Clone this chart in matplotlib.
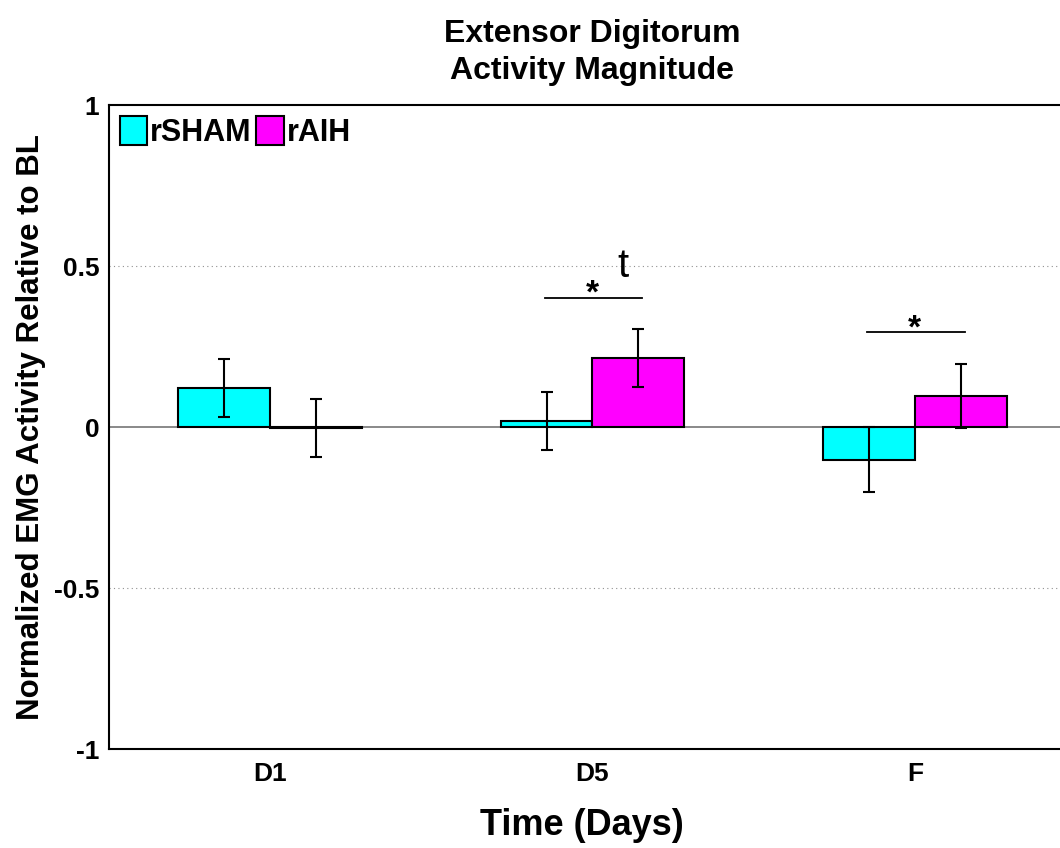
import matplotlib
matplotlib.use('Agg')
import matplotlib.pyplot as plt
import numpy as np

plt.rcParams['font.family'] = ['Liberation Sans', 'DejaVu Sans']

#data
days = ['D1', 'D5', 'F']
sham_mean = [0.122, 0.020, -0.101]
sham_err = [0.090, 0.090, 0.100]
aih_mean = [-0.003, 0.214, 0.097]
aih_err = [0.090, 0.090, 0.100]

#significance marks: (group index, bar height, star height)
sig_marks = [(1, 0.40, 0.413), (2, 0.295, 0.305)]

x = np.arange(1, len(days) + 1)
w = 0.285

fig = plt.figure(figsize=(10.6, 8.48), dpi=100)
ax = fig.add_axes([0.1028, 0.1167, 0.9123, 0.7594])

ax.axhline(0, color='#808080', lw=1.3, zorder=1)
for yy in [-0.5, 0.5]:
    ax.axhline(yy, color='#909090', lw=0.8, ls=(0, (1, 3)), zorder=0)

ax.bar(x - w/2, sham_mean, w, color='#00ffff', edgecolor='black', lw=1.5, label='rSHAM', zorder=2)
ax.bar(x + w/2, aih_mean, w, color='#ff00ff', edgecolor='black', lw=1.5, label='rAIH', zorder=2)
ax.errorbar(x - w/2, sham_mean, yerr=sham_err, fmt='none', ecolor='black', elinewidth=1.5,
            capsize=4.5, capthick=1.5, zorder=3)
ax.errorbar(x + w/2, aih_mean, yerr=aih_err, fmt='none', ecolor='black', elinewidth=1.5,
            capsize=4.5, capthick=1.5, zorder=3)

for i, h, sh in sig_marks:
    ax.plot([x[i] - 0.147, x[i] + 0.155], [h, h], color='black', lw=1.3)
    ax.text(x[i], sh, '*', ha='center', va='center', fontsize=24, fontweight='bold')
ax.text(x[1] + 0.096, 0.50, 't', ha='center', va='center', fontsize=29)

ax.set_xlim(0.5, 3.5)
ax.set_ylim(-1, 1)
ax.set_xticks(x)
ax.set_xticklabels(days, fontsize=19, fontweight='bold')
ax.set_yticks([-1, -0.5, 0, 0.5, 1])
ax.set_yticklabels(['-1', '-0.5', '0', '0.5', '1'], fontsize=19, fontweight='bold')
ax.tick_params(length=0, pad=7)
ax.tick_params(axis='x', pad=9)
for s in ax.spines.values():
    s.set_linewidth(1.5)

ax.set_xlabel('Time (Days)', fontsize=26, fontweight='bold')
ax.xaxis.set_label_coords(0.489, -0.092)
ax.set_ylabel('Normalized EMG Activity Relative to BL', fontsize=22.5, fontweight='bold')
ax.yaxis.set_label_coords(-0.065, 0.5)
ax.set_title('Extensor Digitorum\nActivity Magnitude', fontsize=23, fontweight='bold', pad=19,
             linespacing=1.3)

ax.legend(loc='upper left', ncol=2, frameon=False, prop={'size': 22, 'weight': 'bold'},
          handlelength=0.9, handleheight=1.1, handletextpad=0.1, columnspacing=0.15,
          borderaxespad=0.15, borderpad=0.2)

fig.savefig('out.png', dpi=100)
